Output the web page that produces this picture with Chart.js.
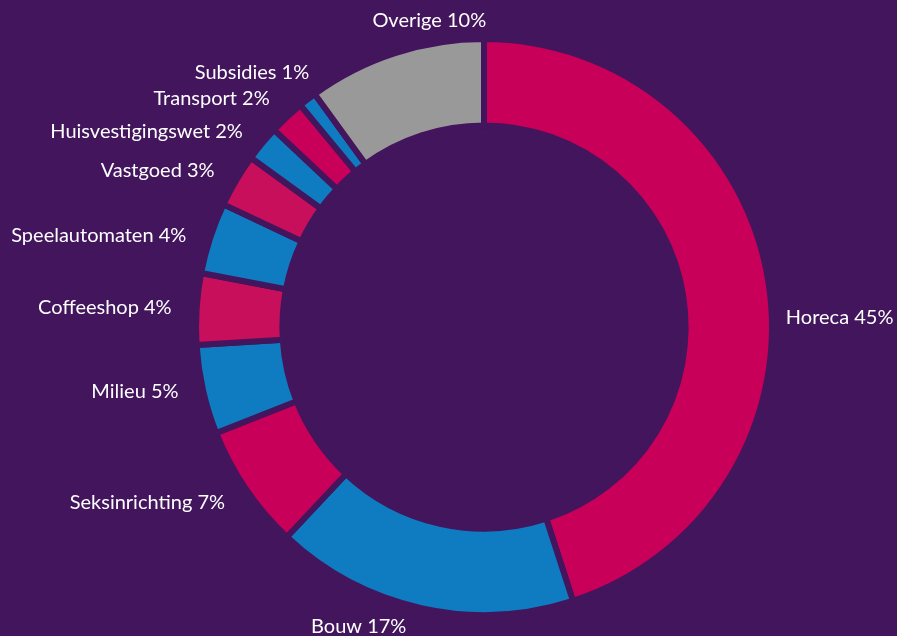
<!DOCTYPE html>
<html>
<head>
<meta charset="utf-8">
<script src="https://cdn.jsdelivr.net/npm/chart.js@4.4.0/dist/chart.umd.min.js"></script>
<style>
  html, body { margin: 0; padding: 0; background: #42155c; }
  #wrap { width: 897px; height: 636px; }
</style>
</head>
<body>
<div id="wrap"><canvas id="donut"></canvas></div>
<script>
const categories = ['Horeca', 'Bouw', 'Seksinrichting', 'Milieu', 'Coffeeshop', 'Speelautomaten',
    'Vastgoed', 'Huisvestigingswet', 'Transport', 'Subsidies', 'Overige'];
const shares = [45, 17, 7, 5, 4, 4, 3, 2, 2, 1, 10];
const sliceColors = ['#c8005a', '#0f7bc0', '#c8005a', '#0f7bc0', '#c70f5b', '#0f7bc0',
    '#c70f5b', '#0f7bc0', '#c8005a', '#0f7bc0', '#999999'];

const BG = '#42155c';

// hand tweaks so the labels sit where the original put them
const labelNudge = {
    Horeca: { angle: -0.03, dx: -11 },
    Overige: { dx: 42, dy: -9, align: 'center' },
    Bouw: { dx: -57, dy: -6, align: 'center' },
    Subsidies: { dx: 17, dy: -7 },
    Huisvestigingswet: { dy: 4 },
    Speelautomaten: { dy: 5 },
    Vastgoed: { dy: 3 },
    Milieu: { dy: -4 }
};

const outsideLabels = {
    id: 'outsideLabels',
    afterDatasetsDraw(chart) {
        const ctx = chart.ctx;
        const arcs = chart.getDatasetMeta(0).data;
        ctx.save();
        ctx.font = '20px Lato';
        ctx.fillStyle = '#ffffff';
        ctx.textBaseline = 'middle';
        arcs.forEach((arc, i) => {
            const name = categories[i];
            const nudge = labelNudge[name] || {};
            const text = name + ' ' + shares[i] + '%';
            const mid = nudge.angle !== undefined ? nudge.angle : (arc.startAngle + arc.endAngle) / 2;
            const r = arc.outerRadius + 25;
            const x = arc.x + Math.cos(mid) * r + (nudge.dx || 0);
            const y = arc.y + Math.sin(mid) * r + (nudge.dy || 0);
            ctx.textAlign = nudge.align || (Math.cos(mid) > 0 ? 'left' : 'right');
            ctx.fillText(text, x, y);
        });
        ctx.restore();
    }
};

new Chart(document.getElementById('donut'), {
    type: 'doughnut',
    data: {
        labels: categories,
        datasets: [{
            data: shares,
            backgroundColor: sliceColors,
            borderColor: BG,
            borderWidth: 6,
            borderJoinStyle: 'bevel'
        }]
    },
    options: {
        responsive: true,
        maintainAspectRatio: false,
        animation: false,
        cutout: '70%',
        layout: { padding: { left: 193, right: 122, top: 36, bottom: 18 } },
        plugins: {
            legend: { display: false },
            tooltip: { enabled: false }
        }
    },
    plugins: [outsideLabels]
});
</script>
</body>
</html>
